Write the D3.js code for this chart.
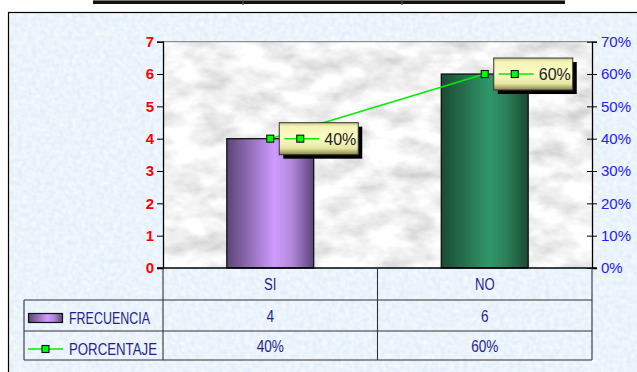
<!DOCTYPE html>
<html><head><meta charset="utf-8">
<script src="https://cdn.jsdelivr.net/npm/d3@7"></script>
<style>html,body{margin:0;padding:0;background:#fff;overflow:hidden}svg{display:block}</style>
</head><body>
<svg id="chart" width="637" height="372"></svg>
<script>
const categories = ["SI", "NO"];
const frecuencia = [4, 6];
const porcentaje = [0.40, 0.60];
const leftTicks = [0, 1, 2, 3, 4, 5, 6, 7];
const rightTicks = [0, 0.1, 0.2, 0.3, 0.4, 0.5, 0.6, 0.7];
const seriesNames = ["FRECUENCIA", "PORCENTAJE"];

const svg = d3.select("#chart");
const defs = svg.append("defs");

// textures
const fb = defs.append("filter").attr("id","bgTex").attr("filterUnits","userSpaceOnUse")
  .attr("x",0).attr("y",0).attr("width",700).attr("height",420);
fb.append("feTurbulence").attr("type","fractalNoise").attr("baseFrequency","0.22").attr("numOctaves",2).attr("seed",3).attr("result","n");
fb.append("feColorMatrix").attr("in","n").attr("type","matrix")
  .attr("values","0.22 0 0 0 0.72  0.16 0 0 0 0.82  0.08 0 0 0 0.93  0 0 0 0 1").attr("result","c");
fb.append("feComposite").attr("in","c").attr("in2","SourceGraphic").attr("operator","in");

const fm = defs.append("filter").attr("id","marble").attr("filterUnits","userSpaceOnUse")
  .attr("x",163).attr("y",41).attr("width",430).attr("height",228);
fm.append("feTurbulence").attr("type","fractalNoise").attr("baseFrequency","0.03 0.055").attr("numOctaves",4).attr("seed",7).attr("result","n");
fm.append("feColorMatrix").attr("in","n").attr("type","matrix")
  .attr("values","0.7 0 0 0 0.54  0.7 0 0 0 0.54  0.7 0 0 0 0.54  0 0 0 0 1").attr("result","c");
fm.append("feComposite").attr("in","c").attr("in2","SourceGraphic").attr("operator","in");

const gSi = defs.append("linearGradient").attr("id","gSi").attr("x1","0").attr("x2","1").attr("y1","0").attr("y2","0");
[[0,"#5a4475"],[0.55,"#cf9bff"],[0.75,"#b287dc"],[1,"#5a4475"]].forEach(s=>gSi.append("stop").attr("offset",s[0]).attr("stop-color",s[1]));
const gNo = defs.append("linearGradient").attr("id","gNo").attr("x1","0").attr("x2","1").attr("y1","0").attr("y2","0");
[[0,"#1b4a33"],[0.55,"#30976a"],[0.75,"#2a8058"],[1,"#1b4a33"]].forEach(s=>gNo.append("stop").attr("offset",s[0]).attr("stop-color",s[1]));
const gLab = defs.append("linearGradient").attr("id","gLab").attr("x1","0").attr("x2","0").attr("y1","0").attr("y2","1");
[[0,"#c8c888"],[0.12,"#f4f4b8"],[0.5,"#fbfbc4"],[0.8,"#e6e6a4"],[1,"#85854c"]].forEach(s=>gLab.append("stop").attr("offset",s[0]).attr("stop-color",s[1]));

// top cut-off table border
svg.append("rect").attr("x",93).attr("y",0).attr("width",472).attr("height",4).attr("fill","#111");
svg.append("rect").attr("x",93).attr("y",0).attr("width",472).attr("height",1).attr("fill","#777");
[243,402].forEach(x=>svg.append("line").attr("x1",x).attr("x2",x).attr("y1",0).attr("y2",5).attr("stroke","#555").attr("stroke-width",1.2));

// outer frame
svg.append("rect").attr("x",8.5).attr("y",12.5).attr("width",680).attr("height",400)
  .attr("fill","#d8e6f6").attr("filter","url(#bgTex)");
svg.append("rect").attr("x",8.5).attr("y",12.5).attr("width",680).attr("height",400)
  .attr("fill","none").attr("stroke","#000").attr("stroke-width",1.2);

// scales
const x = d3.scaleBand().domain(categories).range([163, 592]).padding(0);
const y = d3.scaleLinear().domain([0, 7]).range([268, 41.7]);
const y2 = d3.scaleLinear().domain([0, 0.7]).range([268, 41.7]);
const barW = x.bandwidth() * 0.405;

// plot area marble
svg.append("rect").attr("x",163).attr("y",y(7)).attr("width",429).attr("height",y(0)-y(7)).attr("fill","#ddd").attr("filter","url(#marble)");
svg.append("line").attr("x1",163).attr("x2",592).attr("y1",y(7)).attr("y2",y(7)).attr("stroke","#777").attr("stroke-width",1);

// axes
const axL = svg.append("g").attr("transform","translate(163,0)")
  .call(d3.axisLeft(y).tickValues(leftTicks).tickFormat(d3.format("d")).tickSize(6).tickPadding(3));
axL.select(".domain").attr("stroke","#000").attr("stroke-width",1.3);
axL.selectAll(".tick line").attr("stroke","#000");
axL.selectAll("text").attr("fill","#ff0000").attr("font-family","Liberation Sans, Arial, sans-serif")
  .attr("font-weight","bold").attr("font-size",15);

const axR = svg.append("g").attr("transform","translate(592,0)")
  .call(d3.axisRight(y2).tickValues(rightTicks).tickFormat(d3.format(".0%")).tickSize(5).tickPadding(4));
axR.select(".domain").attr("stroke","#000").attr("stroke-width",1.3);
axR.selectAll(".tick line").attr("stroke","#000").attr("x1",-5);
axR.selectAll("text").attr("fill","#2020ff").attr("font-family","Liberation Sans, Arial, sans-serif")
  .attr("font-size",15);

// bars
svg.selectAll("rect.bar").data(categories).enter().append("rect").attr("class","bar")
  .attr("x",d=>x(d)+x.bandwidth()/2-barW/2).attr("y",(d,i)=>y(frecuencia[i]))
  .attr("width",barW).attr("height",(d,i)=>y(0)-y(frecuencia[i]))
  .attr("fill",(d,i)=>i===0?"url(#gSi)":"url(#gNo)").attr("stroke","#111").attr("stroke-width",1.3);

// baseline
svg.append("line").attr("x1",157).attr("x2",597).attr("y1",y(0)).attr("y2",y(0)).attr("stroke","#000").attr("stroke-width",1.6);

// line series
const lineGen = d3.line().x((d,i)=>x(categories[i])+x.bandwidth()/2).y(d=>y2(d));
svg.append("path").datum(porcentaje).attr("d",lineGen).attr("fill","none").attr("stroke","#00ee00").attr("stroke-width",1.6);

function marker(g, cx, cy){
  g.append("rect").attr("x",cx-3.5).attr("y",cy-3.5).attr("width",7).attr("height",7)
    .attr("fill","#00ff00").attr("stroke","#111").attr("stroke-width",1.1);
}

// data labels
porcentaje.forEach((v,i)=>{
  const cx = x(categories[i])+x.bandwidth()/2, cy = y2(v);
  const bx = cx + 9, by = cy - 16, bw = 79, bh = 32;
  const g = svg.append("g");
  g.append("rect").attr("x",bx+4).attr("y",by+4).attr("width",bw).attr("height",bh).attr("fill","#000");
  g.append("rect").attr("x",bx).attr("y",by).attr("width",bw).attr("height",bh).attr("fill","url(#gLab)").attr("stroke","#333").attr("stroke-width",1);
  g.append("line").attr("x1",bx+5).attr("x2",bx+40).attr("y1",cy).attr("y2",cy).attr("stroke","#00ee00").attr("stroke-width",1.6);
  marker(g, bx+21, cy);
  g.append("text").attr("x",bx+45).attr("y",cy+6).attr("font-family","Liberation Sans, Arial, sans-serif")
    .attr("font-size",16).attr("fill","#222").text(d3.format(".0%")(v));
});
porcentaje.forEach((v,i)=>{
  marker(svg.append("g"), x(categories[i])+x.bandwidth()/2, y2(v));
});

// data table
const tb = svg.append("g").attr("stroke","#333").attr("stroke-width",1.1);
[300,331,360].forEach(yy=>tb.append("line").attr("x1",24).attr("x2",592).attr("y1",yy).attr("y2",yy));
tb.append("line").attr("x1",24).attr("x2",24).attr("y1",300).attr("y2",360);
[163, 592].forEach(xx=>tb.append("line").attr("x1",xx).attr("x2",xx).attr("y1",268).attr("y2",360));
tb.append("line").attr("x1",x("NO")).attr("x2",x("NO")).attr("y1",268).attr("y2",360);

const tf = "Liberation Sans, Arial, sans-serif";
const navy = "#1f1f8f";
function narrow(t, k){
  const w = t.node().getComputedTextLength();
  t.attr("textLength", w*k).attr("lengthAdjust","spacingAndGlyphs");
}
categories.forEach((c,i)=>{
  const cx = x(c)+x.bandwidth()/2;
  narrow(svg.append("text").attr("x",cx).attr("y",290).attr("text-anchor","middle").attr("font-family",tf).attr("font-size",16).attr("fill",navy).text(c), 0.82);
  narrow(svg.append("text").attr("x",cx).attr("y",322).attr("text-anchor","middle").attr("font-family",tf).attr("font-size",16).attr("fill",navy).text(frecuencia[i]), 0.85);
  narrow(svg.append("text").attr("x",cx).attr("y",352).attr("text-anchor","middle").attr("font-family",tf).attr("font-size",16).attr("fill",navy).text(d3.format(".0%")(porcentaje[i])), 0.85);
});

// legend keys
svg.append("rect").attr("x",28.5).attr("y",313.5).attr("width",34).attr("height",9).attr("fill","url(#gSi)").attr("stroke","#111").attr("stroke-width",1.2);
svg.append("line").attr("x1",28).attr("x2",63).attr("y1",349).attr("y2",349).attr("stroke","#00ee00").attr("stroke-width",1.6);
marker(svg.append("g"), 45.5, 349);
svg.append("text").attr("x",69).attr("y",324).attr("font-family",tf).attr("font-size",16).attr("fill",navy)
  .attr("textLength",81).attr("lengthAdjust","spacingAndGlyphs").text(seriesNames[0]);
svg.append("text").attr("x",69).attr("y",355).attr("font-family",tf).attr("font-size",16).attr("fill",navy)
  .attr("textLength",88).attr("lengthAdjust","spacingAndGlyphs").text(seriesNames[1]);
</script>
</body></html>
